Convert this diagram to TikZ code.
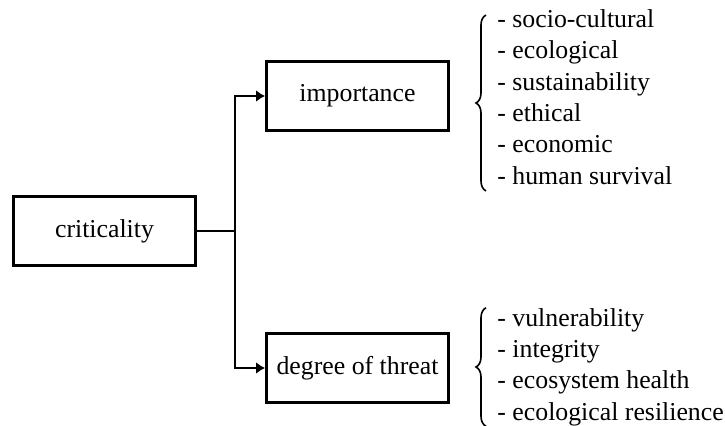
\documentclass[tikz,border=0pt]{standalone}
\usepackage{fontspec}
\setmainfont{Liberation Serif}
\usetikzlibrary{arrows.meta,decorations.pathreplacing}
\tikzset{
  box/.style={draw,line width=1.5pt,minimum width=91pt,minimum height=34.5pt,inner sep=0pt},
  list/.style={align=left,inner sep=0pt,anchor=west},
  link/.style={line width=1pt},
  brace/.style={decorate,decoration={brace,amplitude=5pt},line width=0.8pt}
}
\begin{document}
\begin{tikzpicture}[x=0.5pt,y=-0.5pt,font=\fontsize{12.9}{15.7}\selectfont]
\useasboundingbox (0,0) rectangle (725,426);
\node[box] (crit) at (104.5,231) {criticality};
\node[box] (imp) at (357.5,96) {importance};
\node[box] (thr) at (357.5,368) {degree of threat};
\coordinate (junc) at (235,231);
\node[list] (implist) at (497,97) {- socio-cultural\\- ecological\\- sustainability\\- ethical\\- economic\\- human survival};
\node[list] (thrlist) at (497,367) {- vulnerability\\- integrity\\- ecosystem health\\- ecological resilience};
\draw[link] (crit) -- (junc);
\draw[link,-{Latex[length=4.5pt,width=6pt]}] (junc) |- (imp);
\draw[link,-{Latex[length=4.5pt,width=6pt]}] (junc) |- (thr);
\draw[brace] ([xshift=-5.5pt,yshift=-3pt]implist.south west) -- ([xshift=-5.5pt,yshift=-3pt]implist.north west);
\draw[brace] ([xshift=-5.5pt]thrlist.south west) -- ([xshift=-5.5pt]thrlist.north west);
\end{tikzpicture}
\end{document}
